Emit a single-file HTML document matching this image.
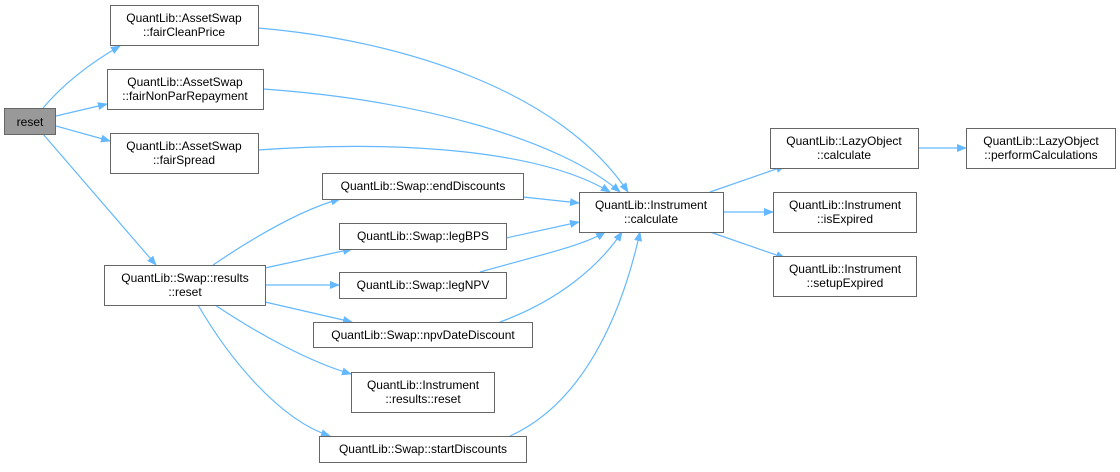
<!DOCTYPE html>
<html><head><meta charset="utf-8"><style>
html,body{margin:0;padding:0;background:#fff;}
svg text{font-family:"Liberation Sans",sans-serif;font-size:12px;fill:#000;text-anchor:middle;}
</style></head><body>
<svg width="1120" height="467" viewBox="0 0 1120 467" xmlns="http://www.w3.org/2000/svg">
<defs><marker id="a" markerWidth="10" markerHeight="8" refX="9" refY="4" orient="auto" markerUnits="userSpaceOnUse"><path d="M0,0 L10,4 L0,8 z" fill="#63b8ff"/></marker></defs>
<g fill="none" stroke="#63b8ff" stroke-width="1.2" marker-end="url(#a)">
<path d="M43,108 C60,88 85,66 120,46"/>
<path d="M56,116 L107,104"/>
<path d="M56,126 L110,141"/>
<path d="M43,134 L156,265"/>
<path d="M258,28 C400,40 560,90 628,192"/>
<path d="M263,89 C420,100 560,140 620,192"/>
<path d="M258,150 C400,140 540,150 610,192"/>
<path d="M523,197 L579,203"/>
<path d="M506,238 L579,222"/>
<path d="M480,272 C540,255 585,245 605,232"/>
<path d="M500,322 C560,300 600,265 622,232"/>
<path d="M510,436 C590,400 625,300 640,232"/>
<path d="M213,265 C250,240 300,210 340,199"/>
<path d="M265,268 L352,249"/>
<path d="M265,285 L339,285"/>
<path d="M265,302 L352,322"/>
<path d="M215,305 C260,335 310,362 351,374"/>
<path d="M198,305 C230,360 280,420 330,436"/>
<path d="M710,192 L785,166"/>
<path d="M723,212 L773,212"/>
<path d="M710,232 L785,258"/>
<path d="M918,148 L966,148"/>
</g>
<g stroke="#666" stroke-width="1" fill="#fff">
<rect x="4.5" y="108.5" width="51" height="26" fill="#999"/>
<rect x="110.5" y="5.5" width="148" height="40"/>
<rect x="107.5" y="69.5" width="156" height="40"/>
<rect x="110.5" y="133.5" width="148" height="40"/>
<rect x="322.5" y="173.5" width="201" height="26"/>
<rect x="339.5" y="223.5" width="167" height="26"/>
<rect x="104.5" y="265.5" width="161" height="40"/>
<rect x="339.5" y="272.5" width="167" height="26"/>
<rect x="313.5" y="322.5" width="219" height="25"/>
<rect x="351.5" y="372.5" width="143" height="40"/>
<rect x="319.5" y="436.5" width="207" height="26"/>
<rect x="579.5" y="192.5" width="144" height="40"/>
<rect x="770.5" y="128.5" width="148" height="40"/>
<rect x="773.5" y="192.5" width="143" height="40"/>
<rect x="773.5" y="256.5" width="143" height="40"/>
<rect x="966.5" y="128.5" width="149" height="40"/>
</g>
<text x="30" y="126">reset</text>
<text x="184" y="22">QuantLib::AssetSwap</text><text x="184" y="36">::fairCleanPrice</text>
<text x="185" y="86">QuantLib::AssetSwap</text><text x="185" y="100">::fairNonParRepayment</text>
<text x="184" y="150">QuantLib::AssetSwap</text><text x="184" y="164">::fairSpread</text>
<text x="423" y="190">QuantLib::Swap::endDiscounts</text>
<text x="423" y="240">QuantLib::Swap::legBPS</text>
<text x="185" y="282">QuantLib::Swap::results</text><text x="185" y="296">::reset</text>
<text x="423" y="289">QuantLib::Swap::legNPV</text>
<text x="423" y="339">QuantLib::Swap::npvDateDiscount</text>
<text x="423" y="389">QuantLib::Instrument</text><text x="423" y="403">::results::reset</text>
<text x="423" y="453">QuantLib::Swap::startDiscounts</text>
<text x="651" y="209">QuantLib::Instrument</text><text x="651" y="223">::calculate</text>
<text x="844" y="145">QuantLib::LazyObject</text><text x="844" y="159">::calculate</text>
<text x="845" y="209">QuantLib::Instrument</text><text x="845" y="223">::isExpired</text>
<text x="845" y="273">QuantLib::Instrument</text><text x="845" y="287">::setupExpired</text>
<text x="1041" y="145">QuantLib::LazyObject</text><text x="1041" y="159">::performCalculations</text>
</svg>
</body></html>
